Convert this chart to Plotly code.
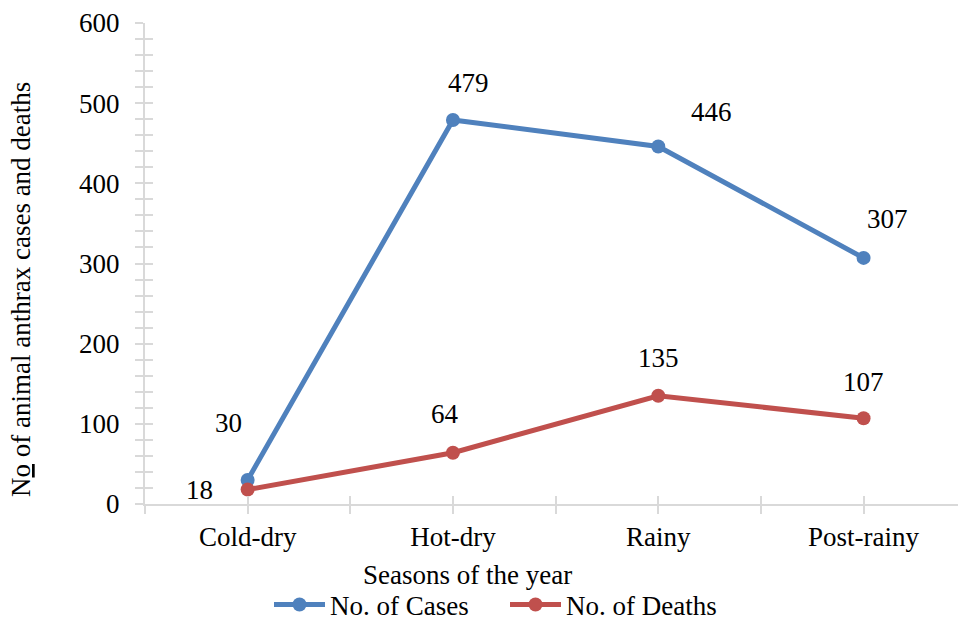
import plotly.graph_objects as go

seasons = ["Cold-dry", "Hot-dry", "Rainy", "Post-rainy"]
cases = [30, 479, 446, 307]
deaths = [18, 64, 135, 107]
y_ticks = [0, 100, 200, 300, 400, 500, 600]

FONT = "Liberation Serif"
BLUE = "#4F81BD"
RED = "#C0504D"
AXC = "#D9D9D9"
FS = 27

xpos = list(range(len(seasons)))
tickvals = []
ticktext = []
for i, s in enumerate(seasons):
    tickvals += [i - 0.5, i]
    ticktext += ["", s]
tickvals.append(len(seasons) - 0.5)
ticktext.append("")

fig = go.Figure()
fig.add_trace(go.Scatter(x=xpos, y=cases, mode="lines+markers", name="No. of Cases",
                         line=dict(color=BLUE, width=5), marker=dict(size=14, color=BLUE)))
fig.add_trace(go.Scatter(x=xpos, y=deaths, mode="lines+markers", name="No. of Deaths",
                         line=dict(color=RED, width=5), marker=dict(size=14, color=RED)))
fig.add_trace(go.Scatter(x=[], y=[], xaxis="x2", yaxis="y2", showlegend=False, hoverinfo="skip"))

xr = [-0.5, 3.46]
fig.update_layout(
    width=958, height=621,
    margin=dict(l=145, r=0, t=23, b=117, autoexpand=False),
    paper_bgcolor="white", plot_bgcolor="white",
    font=dict(family=FONT, size=FS, color="black"),
    showlegend=True,
    legend=dict(orientation="h", x=(269 - 145) / 813, xanchor="left", y=(504 - 605) / 481, yanchor="middle",
                font=dict(size=FS, family=FONT), itemwidth=51, entrywidth=170, tracegroupgap=0,
                bgcolor="rgba(0,0,0,0)"),
    xaxis=dict(range=xr, tickmode="array", tickvals=tickvals, ticktext=ticktext, automargin=False,
               showgrid=False, zeroline=False, showline=True, linecolor=AXC, linewidth=2,
               ticks="outside", ticklen=8, tickwidth=2, tickcolor=AXC,
               tickfont=dict(size=FS, family=FONT), ticklabelstandoff=0),
    xaxis2=dict(range=xr, overlaying="x", anchor="y", side="bottom", tickmode="array", automargin=False,
                tickvals=tickvals, showticklabels=False, showgrid=False, zeroline=False,
                showline=False, ticks="inside", ticklen=8, tickwidth=2, tickcolor=AXC),
    yaxis=dict(range=[0, 600], tickmode="array", tickvals=y_ticks, automargin=False,
               showgrid=False, zeroline=False, showline=True, linecolor=AXC, linewidth=2,
               ticks="outside", ticklen=8, tickwidth=2, tickcolor=AXC,
               minor=dict(dtick=20, tick0=0, ticks="outside", ticklen=8, tickwidth=2, tickcolor=AXC, showgrid=False),
               tickfont=dict(size=FS, family=FONT), ticklabelstandoff=10),
    yaxis2=dict(range=[0, 600], overlaying="y", anchor="x", side="left", tickmode="array", automargin=False,
                tickvals=y_ticks, showticklabels=False, showgrid=False, zeroline=False,
                showline=False, ticks="inside", ticklen=8, tickwidth=2, tickcolor=AXC,
                minor=dict(dtick=20, tick0=0, ticks="inside", ticklen=8, tickwidth=2, tickcolor=AXC, showgrid=False)),
)

case_offsets = [(-19, 57), (16, 37), (53, 34), (24, 39)]
death_offsets = [(-48, 0), (-8, 39), (0, 38), (0, 36)]
for i in range(len(seasons)):
    dx, dy = case_offsets[i]
    fig.add_annotation(x=xpos[i], y=cases[i], text=str(cases[i]), showarrow=False,
                       xshift=dx, yshift=dy, font=dict(size=FS, family=FONT))
    dx, dy = death_offsets[i]
    fig.add_annotation(x=xpos[i], y=deaths[i], text=str(deaths[i]), showarrow=False,
                       xshift=dx, yshift=dy, font=dict(size=FS, family=FONT))

fig.add_annotation(text="Seasons of the year", xref="paper", yref="paper",
                   x=(467 - 145) / 813, y=(504 - 575) / 481, xanchor="center", yanchor="middle",
                   showarrow=False, font=dict(size=FS, family=FONT))
fig.add_annotation(text="N<u>o</u> of animal anthrax cases and deaths", xref="paper", yref="paper",
                   x=(21 - 145) / 813, y=(504 - 290) / 481, xanchor="center", yanchor="middle",
                   textangle=-90, showarrow=False, font=dict(size=FS, family=FONT))

fig.write_html("out.html", config={"displayModeBar": False},
               post_script="document.body.style.margin='0';document.body.style.overflow='hidden';")
